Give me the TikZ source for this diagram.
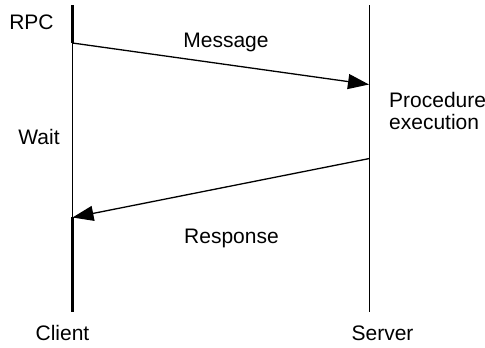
\documentclass[tikz,border=0pt]{standalone}
\usepackage{fontspec}
\setmainfont{Liberation Sans}
\usetikzlibrary{arrows.meta}
\begin{document}
\begin{tikzpicture}[x=1pt,y=-1pt,
  lbl/.style={inner sep=0pt,anchor=base,font=\fontsize{21}{25}\selectfont},
  lifeline/.style={line width=1.3pt},
  active/.style={line width=3pt},
  msg/.style={line width=1.3pt,-{Triangle[length=21pt,width=15pt]}}]
  \useasboundingbox (0,0) rectangle (485,348);
  % lifeline endpoints and message anchors
  \coordinate (ctop) at (72.5,5);
  \coordinate (cbot) at (72.5,312);
  \coordinate (stop) at (369.5,5);
  \coordinate (sbot) at (369.5,312);
  \coordinate (send) at (72.5,43);
  \coordinate (recv) at (369,84.5);
  \coordinate (reply) at (369.5,158.5);
  \coordinate (back) at (72.5,217.5);
  % lifelines
  \draw[lifeline] (ctop) -- (cbot);
  \draw[lifeline] (stop) -- (sbot);
  \draw[active] (ctop) -- (send);
  \draw[active] (72.5,216.5) -- (cbot);
  % messages
  \draw[msg] (send) -- (recv);
  \draw[msg] (reply) -- (back);
  % labels
  \node[lbl] (rpc) at (31.5,29) {RPC};
  \node[lbl] (message) at (226,47) {Message};
  \node[lbl,anchor=base west] (proc) at (389,107) {Procedure};
  \node[lbl,anchor=base west] (exec) at (389,129) {execution};
  \node[lbl] (wait) at (39,144.5) {Wait};
  \node[lbl] (response) at (231.5,243.5) {Response};
  \node[lbl] (client) at (62.5,340) {Client};
  \node[lbl] (server) at (382.5,340) {Server};
\end{tikzpicture}
\end{document}
